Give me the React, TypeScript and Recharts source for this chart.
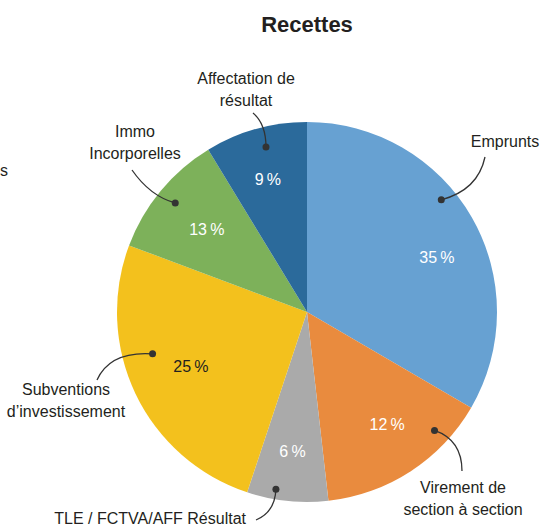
import { PieChart, Pie, Cell } from 'recharts';

const categories = [
  'Emprunts',
  'Virement de section à section',
  'TLE / FCTVA/AFF Résultat',
  'Subventions d’investissement',
  'Immo Incorporelles',
  'Affectation de résultat',
];
// slice sizes as drawn in the picture
const shares = [33.4, 14.8, 6.9, 25.6, 10.6, 8.7];
// percentages printed on the slices
const percentLabels = ['35 %', '12 %', '6 %', '25 %', '13 %', '9 %'];
const labelLines = [
  ['Emprunts'],
  ['Virement de', 'section à section'],
  ['TLE / FCTVA/AFF Résultat'],
  ['Subventions', 'd’investissement'],
  ['Immo', 'Incorporelles'],
  ['Affectation de', 'résultat'],
];

const colors = ['#67a1d2', '#e98b3e', '#aaaaaa', '#f3c11d', '#7db15a', '#2b6a9b'];
const pctColors = ['#fff', '#fff', '#fff', '#231f20', '#fff', '#fff'];

const W = 540;
const H = 528;
const CX = 307;
const CY = 312;
const R = 190;
const RAD = Math.PI / 180;
const FONT = '"Liberation Sans", Arial, sans-serif';

// annotation layout: pct = [clockwise shift, radius], dot = [shift, radius],
// leader control + end point, text anchor/position
const layout = [
  { pct: [7, 141], dot: [-10, 175], ctrl: [478, 190], end: [485, 157], tx: 505, ty: 147, anchor: 'middle' },
  { pct: [-2.4, 138], dot: [-14, 174], ctrl: [462, 440], end: [462, 471], tx: 463, ty: 493, anchor: 'middle' },
  { pct: [0, 140], dot: [4, 180], ctrl: [275, 512], end: [256, 520], tx: 246, ty: 524, anchor: 'end' },
  { pct: [0.6, 128], dot: [10.4, 160], ctrl: [110, 351], end: [97, 380], tx: 66, ty: 395, anchor: 'middle' },
  { pct: [0, 130], dot: [0, 171], ctrl: [150, 196], end: [132, 170], tx: 135, ty: 137, anchor: 'middle' },
  { pct: [-0.8, 138], dot: [1.7, 170], ctrl: [266, 124], end: [253, 113], tx: 246, ty: 84, anchor: 'middle' },
];

const data = categories.map((name, i) => ({ name, value: shares[i] }));

const polar = (r: number, angle: number) => [
  CX + r * Math.cos(-angle * RAD),
  CY + r * Math.sin(-angle * RAD),
];

function renderLabel(props: any) {
  const { midAngle, index } = props;
  const l = layout[index];
  const [px, py] = polar(l.pct[1], midAngle - l.pct[0]);
  const [dx, dy] = polar(l.dot[1], midAngle - l.dot[0]);
  return (
    <g key={`lbl-${index}`}>
      <text
        x={px}
        y={py}
        dy="0.35em"
        textAnchor="middle"
        fill={pctColors[index]}
        fontSize={16}
        fontFamily={FONT}
      >
        {percentLabels[index].replace(' ', '\u2009')}
      </text>
      <path
        d={`M${dx},${dy} Q${l.ctrl[0]},${l.ctrl[1]} ${l.end[0]},${l.end[1]}`}
        fill="none"
        stroke="#333"
        strokeWidth={1.3}
      />
      <circle cx={dx} cy={dy} r={3.5} fill="#333" />
      <text x={l.tx} y={l.ty} textAnchor={l.anchor} fill="#231f20" fontSize={16} fontFamily={FONT}>
        {labelLines[index].map((line, j) => (
          <tspan key={j} x={l.tx} dy={j === 0 ? 0 : 22}>
            {line}
          </tspan>
        ))}
      </text>
    </g>
  );
}

export default function App() {
  return (
    <div style={{ position: 'absolute', left: 0, top: 0, width: W, height: H, background: '#fff' }}>
      <PieChart width={W} height={H} margin={{ top: 0, right: 0, bottom: 0, left: 0 }}>
        <Pie
          data={data}
          dataKey="value"
          nameKey="name"
          cx={CX}
          cy={CY}
          outerRadius={R}
          startAngle={90}
          endAngle={-270}
          stroke="none"
          label={renderLabel}
          labelLine={false}
          isAnimationActive={false}
        >
          {data.map((d, i) => (
            <Cell key={d.name} fill={colors[i]} />
          ))}
        </Pie>
      </PieChart>
      <svg width={W} height={H} style={{ position: 'absolute', left: 0, top: 0, pointerEvents: 'none' }}>
        <text x={307} y={32} textAnchor="middle" fontSize={22} fontWeight="bold" fill="#231f20" fontFamily={FONT}>
          Recettes
        </text>
        <text x={0} y={176} fontSize={16} fill="#231f20" fontFamily={FONT}>
          s
        </text>
      </svg>
    </div>
  );
}
